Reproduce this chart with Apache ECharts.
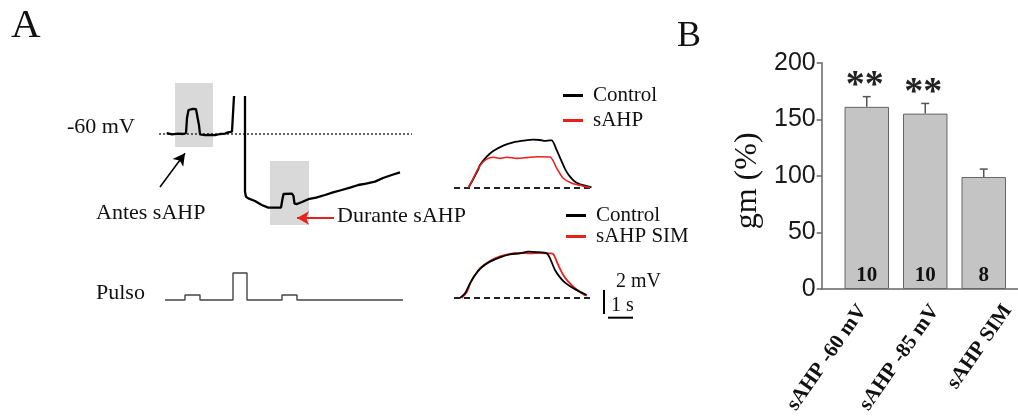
<!DOCTYPE html>
<html><head><meta charset="utf-8">
<script src="https://cdn.jsdelivr.net/npm/echarts@6/dist/echarts.min.js"></script>
<style>html,body{margin:0;padding:0;background:#fff}#c{width:1018px;height:417px}</style>
</head><body><div id="c"></div>
<script>
// ---------- Panel A: membrane potential trace (time s, mV) ----------
const traceBeforeSpike = [[1.67,-59.8],[2.2,-60.1],[2.8,-59.9],[3.3,-60.0],[3.6,-59.8],[3.7,-56],[3.85,-54],[4.0,-53.8],[4.3,-53.7],[4.6,-53.8],[4.75,-54.3],[4.9,-57.8],[5.0,-60.1],[5.5,-60.3],[6.0,-60.2],[6.5,-60.3],[7.0,-60.0],[7.5,-59.9],[7.8,-59.6],[8.2,-59.4],[8.35,-59.4],[8.4,-50.5]];
const traceAfterSpike = [[9.5,-50.5],[9.5,-74.4],[9.6,-75.7],[9.83,-76.1],[10.5,-76.75],[11.17,-77.75],[11.83,-78.4],[12.5,-78.4],[13.1,-78.4],[13.23,-76.5],[13.35,-75],[13.5,-74.8],[14.2,-74.9],[14.35,-75.5],[14.45,-77.4],[14.7,-77.5],[15.2,-77.0],[15.83,-76.3],[16.6,-75.9],[17.5,-75.25],[18.3,-74.6],[19.17,-74.0],[20.0,-73.4],[20.83,-72.75],[21.6,-72.4],[22.5,-71.9],[23.3,-71.0],[24.17,-70.25],[25.0,-69.6]];
const restLevel = [[0.9,-60],[26.2,-60]];
const boxAntes = [[2.5,-47.25],[6.3,-63.25]];
const boxDurante = [[12.0,-66.75],[15.9,-82.75]];
const arrowAntes = [[1.0,-73.25],[3.5,-64.8]];
const arrowDurante = [[18.4,-81],[14.7,-81]];
// current pulse protocol (nA)
const pulseTrace = [[1.5,0],[3.5,0],[3.5,0.05],[5.0,0.05],[5.0,0],[8.3,0],[8.3,0.27],[9.7,0.27],[9.7,0],[13.2,0],[13.2,0.05],[14.7,0.05],[14.7,0],[25.3,0]];
// ---------- Insets: responses (s, mV) ----------
const inset1Control = [[0.57,0],[0.77,0.75],[0.97,1.55],[1.04,1.92],[1.31,2.61],[1.57,3.08],[1.97,3.53],[2.37,3.8],[2.77,3.94],[3.17,4.03],[3.44,4.0],[3.64,3.92],[3.84,3.97],[3.91,3.97],[4.1,3.2],[4.31,2.2],[4.45,1.55],[4.6,1.05],[4.8,0.6],[4.95,0.4],[5.2,0.22],[5.5,0.05]];
const inset1sAHP = [[0.57,0],[0.77,0.81],[0.97,1.64],[1.17,2.19],[1.37,2.47],[1.57,2.56],[1.84,2.47],[2.11,2.56],[2.51,2.47],[2.91,2.53],[3.31,2.61],[3.84,2.58],[4.11,1.64],[4.37,0.81],[4.71,0.39],[5.11,0.19],[5.44,0.03]];
const inset2Control = [[0.24,0],[0.44,0.39],[0.64,1.22],[0.84,1.92],[1.11,2.56],[1.44,3.03],[1.84,3.39],[2.24,3.64],[2.64,3.72],[2.97,3.86],[3.31,3.83],[3.71,3.72],[3.84,3.31],[4.04,2.33],[4.24,1.72],[4.44,1.28],[4.77,0.81],[5.17,0.39],[5.3,0.25]];
const inset2SIM = [[0.31,0],[0.51,0.5],[0.64,1.17],[0.77,1.67],[1.04,2.47],[1.44,3.08],[1.84,3.47],[2.24,3.67],[2.64,3.75],[3.04,3.72],[3.44,3.75],[3.84,3.72],[3.97,3.67],[4.17,2.75],[4.37,1.92],[4.57,1.36],[4.84,0.81],[5.17,0.31],[5.31,0.2]];
const insetBaseline = [[0,0],[5.56,0]];
const scaleBarV = [[6.0,0.67],[6.0,-1.33]];   // 2 mV
const scaleBarH = [[6.16,-1.64],[7.16,-1.64]]; // 1 s
// ---------- Panel B ----------
const categories = ['sAHP -60 mV','sAHP -85 mV','sAHP SIM'];
const gmMean = [161,155,99];
const gmSem = [9,9,7];
const nCells = [10,10,8];
const signif = ['**','**',''];

const SERIF = '"Liberation Serif","Times New Roman",serif';
const SANS = '"Liberation Sans",Arial,sans-serif';
const RED = '#e8211c';
const INK = '#111';

const hidden = {show:false};
function hx(i,min,max){return {type:'value',gridIndex:i,min:min,max:max,show:false};}

const chart = echarts.init(document.getElementById('c'), null, {renderer:'canvas'});
const option = {
  animation:false,
  backgroundColor:'#fff',
  grid:[
    {left:150, top:78, width:270, height:160},
    {left:150, top:260, width:270, height:50},
    {left:454, top:128, width:200, height:72},
    {left:454, top:238, width:200, height:84},
    {left:821.7, top:62.7, right:0, height:226.3},
    {left:837.5, top:62.7, width:175.5, height:226.3},
    {left:862.5, top:62.7, width:148, height:226.3}
  ],
  xAxis:[
    hx(0,0,27), hx(1,0,27), hx(2,0,8), hx(3,0,8),
    {type:'value',gridIndex:4,min:0,max:1,axisLine:{show:true,lineStyle:{color:'#666',width:1.5}},axisTick:hidden,axisLabel:hidden,splitLine:hidden},
    {type:'category',gridIndex:5,data:categories,axisLine:hidden,axisTick:hidden,axisLabel:hidden},
    {type:'category',gridIndex:6,data:categories,boundaryGap:false,axisLine:hidden,axisTick:hidden,
      axisLabel:{show:true,interval:0,rotate:55,margin:18,fontFamily:SERIF,fontWeight:'bold',fontSize:21,color:INK}}
  ],
  yAxis:[
    hx(0,-86,-46), hx(1,-0.1,0.4), hx(2,-1,5), hx(3,-2,5),
    {type:'value',gridIndex:4,min:0,max:200,interval:50,
      axisLine:{show:true,lineStyle:{color:'#666',width:1.5}},
      axisTick:{show:true,length:5,lineStyle:{color:'#666',width:1.5}},
      splitLine:hidden,
      axisLabel:{fontFamily:SANS,fontSize:25,color:'#1a1a1a',margin:6},
      name:'gm (%)',nameLocation:'middle',nameGap:58,
      nameTextStyle:{fontFamily:SERIF,fontSize:32,color:INK,padding:[0,10,0,0]}},
    {type:'value',gridIndex:5,min:0,max:200,show:false},
    {type:'value',gridIndex:6,min:0,max:200,show:false}
  ],
  legend:[
    {data:['Control','sAHP'],orient:'vertical',left:563,top:85,padding:0,itemWidth:20,itemHeight:3,icon:'rect',itemGap:4,selectedMode:false,
     textStyle:{fontFamily:SERIF,fontSize:21,color:INK,lineHeight:20,padding:[0,0,0,5]}},
    {data:['Control','sAHP SIM'],orient:'vertical',left:566,top:205,padding:0,itemWidth:20,itemHeight:3,icon:'rect',itemGap:0,selectedMode:false,
     textStyle:{fontFamily:SERIF,fontSize:21,color:INK,lineHeight:20,padding:[0,0,0,5]}}
  ],
  graphic:[
    {type:'text',x:11,y:26,style:{text:'A',font:'41px '+SERIF,fill:INK,verticalAlign:'middle'}},
    {type:'text',x:677,y:37,style:{text:'B',font:'36px '+SERIF,fill:INK,verticalAlign:'middle'}},
    {type:'text',x:67,y:127,style:{text:'-60 mV',font:'22px '+SERIF,fill:INK,verticalAlign:'middle'}},
    {type:'text',x:96,y:213,style:{text:'Antes sAHP',font:'22px '+SERIF,fill:INK,verticalAlign:'middle'}},
    {type:'text',x:337,y:216,style:{text:'Durante sAHP',font:'22px '+SERIF,fill:INK,verticalAlign:'middle'}},
    {type:'text',x:96,y:293,style:{text:'Pulso',font:'22px '+SERIF,fill:INK,verticalAlign:'middle'}},
    {type:'text',x:616,y:282,style:{text:'2 mV',font:'20px '+SERIF,fill:INK,verticalAlign:'middle'}},
    {type:'text',x:611,y:306,style:{text:'1 s',font:'20px '+SERIF,fill:INK,verticalAlign:'middle'}}
  ],
  series:[
    // gray highlight boxes + resting level
    {type:'line',xAxisIndex:0,yAxisIndex:0,data:restLevel,showSymbol:false,silent:true,z:2,
     lineStyle:{color:'#333',width:1.3,type:[2,2]},
     markArea:{silent:true,itemStyle:{color:'#d9d9d9'},
       data:[[{coord:boxAntes[0]},{coord:boxAntes[1]}],[{coord:boxDurante[0]},{coord:boxDurante[1]}]]}},
    {type:'line',xAxisIndex:0,yAxisIndex:0,data:traceBeforeSpike,showSymbol:false,silent:true,z:4,lineStyle:{color:'#000',width:2.3}},
    {type:'line',xAxisIndex:0,yAxisIndex:0,data:traceAfterSpike,showSymbol:false,silent:true,z:4,lineStyle:{color:'#000',width:2.3}},
    // arrows
    {type:'line',xAxisIndex:0,yAxisIndex:0,data:[],silent:true,z:5,
     markLine:{silent:true,symbol:['none','arrow'],symbolSize:[10,12],label:hidden,
       data:[
         [{coord:arrowAntes[0],lineStyle:{color:'#000',width:1.5,type:'solid'},itemStyle:{color:'#000'}},{coord:arrowAntes[1]}],
         [{coord:arrowDurante[0],lineStyle:{color:RED,width:2.2,type:'solid'},itemStyle:{color:RED}},{coord:arrowDurante[1]}]
       ]}},
    // pulse protocol
    {type:'line',xAxisIndex:1,yAxisIndex:1,data:pulseTrace,showSymbol:false,silent:true,lineStyle:{color:'#444',width:1.4}},
    // inset 1
    {type:'line',name:'_b1',xAxisIndex:2,yAxisIndex:2,data:insetBaseline,showSymbol:false,silent:true,lineStyle:{color:'#222',width:2,type:[6,4]}},
    {type:'line',name:'Control',xAxisIndex:2,yAxisIndex:2,data:inset1Control,smooth:0.25,showSymbol:false,silent:true,z:3,color:'#000',lineStyle:{color:'#000',width:1.8}},
    {type:'line',name:'sAHP',xAxisIndex:2,yAxisIndex:2,data:inset1sAHP,smooth:0.25,showSymbol:false,silent:true,z:3,color:RED,lineStyle:{color:RED,width:1.6}},
    // inset 2
    {type:'line',name:'_b2',xAxisIndex:3,yAxisIndex:3,data:insetBaseline,showSymbol:false,silent:true,lineStyle:{color:'#222',width:2,type:[6,4]}},
    {type:'line',name:'sAHP SIM',xAxisIndex:3,yAxisIndex:3,data:inset2SIM,smooth:0.25,showSymbol:false,silent:true,z:3,color:RED,lineStyle:{color:RED,width:1.8}},
    {type:'line',name:'Control',xAxisIndex:3,yAxisIndex:3,data:inset2Control,smooth:0.25,showSymbol:false,silent:true,z:4,color:'#000',lineStyle:{color:'#000',width:1.8}},
    {type:'line',xAxisIndex:3,yAxisIndex:3,data:scaleBarV,showSymbol:false,silent:true,lineStyle:{color:'#000',width:2}},
    {type:'line',xAxisIndex:3,yAxisIndex:3,data:scaleBarH,showSymbol:false,silent:true,lineStyle:{color:'#000',width:2}},
    // Panel B bars
    {type:'bar',xAxisIndex:5,yAxisIndex:5,data:gmMean,barWidth:44.5,silent:true,
     itemStyle:{color:'#c4c4c4',borderColor:'#666',borderWidth:1},
     label:{show:true,position:'insideBottom',distance:3,formatter:p=>String(nCells[p.dataIndex]),
       fontFamily:SERIF,fontWeight:'bold',fontSize:21,color:INK}},
    {type:'custom',xAxisIndex:5,yAxisIndex:5,silent:true,z:5,
     data:categories.map((c,i)=>[i,gmMean[i],gmSem[i]]),
     encode:{x:0,y:1},
     renderItem:function(params,api){
       const i=api.value(0), m=api.value(1), e=api.value(2);
       const p0=api.coord([i,m]), p1=api.coord([i,m+e]);
       const ch=[
         {type:'line',shape:{x1:p0[0],y1:p0[1],x2:p1[0],y2:p1[1]},style:{stroke:'#555',lineWidth:1.5}},
         {type:'line',shape:{x1:p1[0]-4,y1:p1[1],x2:p1[0]+4,y2:p1[1]},style:{stroke:'#555',lineWidth:1.5}}
       ];
       if(signif[i]) ch.push({type:'text',x:p1[0]-2,y:p1[1]-10,style:{text:signif[i],font:'bold 38px '+SERIF,fill:'#222',align:'center',verticalAlign:'middle'}});
       return {type:'group',children:ch};
     }}
  ]
};
chart.setOption(option);
</script>
</body></html>
